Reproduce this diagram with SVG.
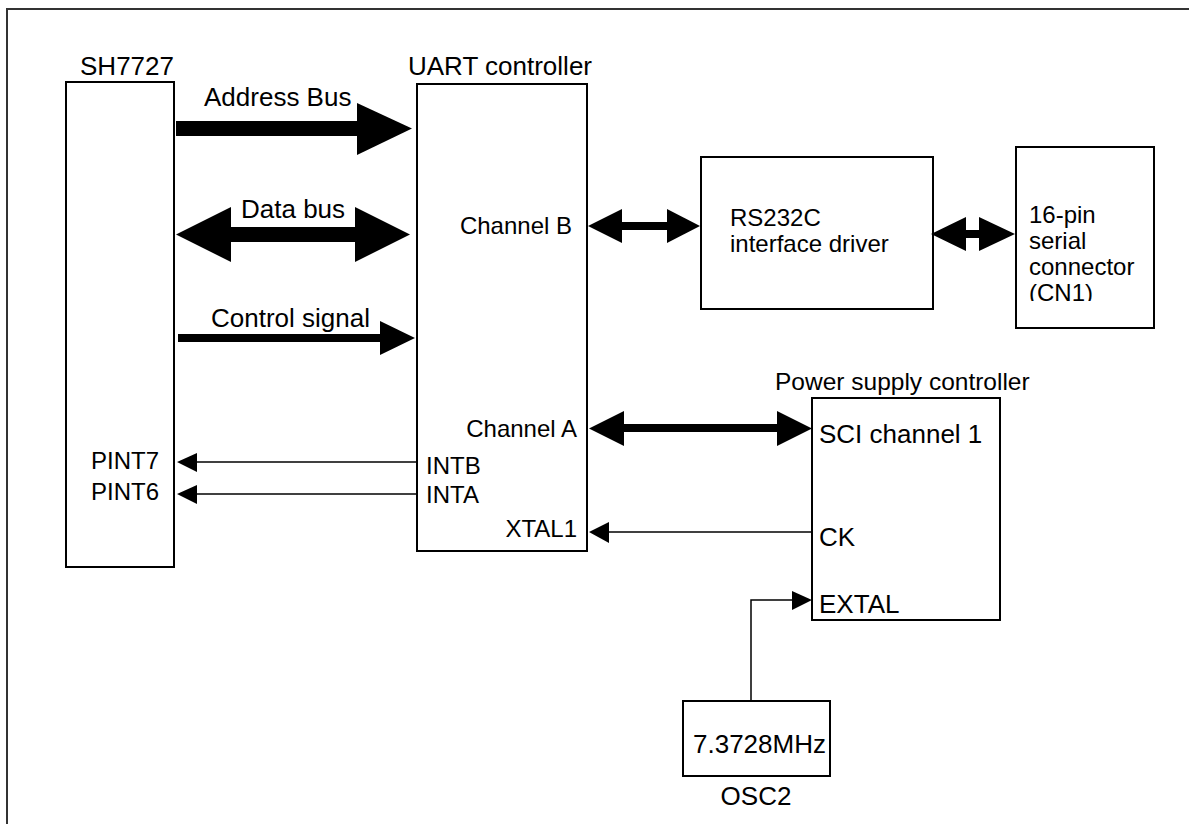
<svg xmlns="http://www.w3.org/2000/svg" width="1189" height="824" viewBox="0 0 1189 824">
<defs>
<style>
.box{fill:#fff;stroke:#000;stroke-width:2}
.frame{fill:none;stroke:#333;stroke-width:2}
.big{font-family:"Liberation Sans",Arial,sans-serif;font-size:26px;fill:#000}
.sm{font-family:"Liberation Sans",Arial,sans-serif;font-size:24px;fill:#000}
.thin{fill:none;stroke:#000;stroke-width:1.5}
.head{fill:#000;stroke:none}
</style>
<clipPath id="cnclip"><rect x="1017" y="148" width="136" height="153"/></clipPath>
</defs>
<rect class="frame" x="7" y="9" width="1200" height="830"/>

<g id="sh7727">
<rect class="box" x="66" y="82" width="108" height="485"/>
<text class="big" x="127" y="75" text-anchor="middle">SH7727</text>
<text class="sm" x="159" y="469" text-anchor="end">PINT7</text>
<text class="sm" x="159" y="500" text-anchor="end">PINT6</text>
</g>

<g id="uart">
<rect class="box" x="417" y="84" width="170" height="467"/>
<text class="big" x="408" y="75">UART controller</text>
<text class="sm" x="572" y="234" text-anchor="end">Channel B</text>
<text class="sm" x="577" y="437" text-anchor="end">Channel A</text>
<text class="sm" x="426" y="474">INTB</text>
<text class="sm" x="426" y="503">INTA</text>
<text class="sm" x="577" y="537" text-anchor="end">XTAL1</text>
</g>

<g id="rs232c">
<rect class="box" x="701" y="157" width="232" height="152"/>
<text class="sm" x="730" y="226">RS232C</text>
<text class="sm" x="730" y="252">interface driver</text>
</g>

<g id="cn1">
<rect class="box" x="1016" y="147" width="138" height="181"/>
<g clip-path="url(#cnclip)">
<text class="sm" x="1029" y="223">16-pin</text>
<text class="sm" x="1029" y="249">serial</text>
<text class="sm" x="1029" y="275">connector</text>
<text class="sm" x="1029" y="301">(CN1)</text>
</g>
</g>

<g id="psc">
<rect class="box" x="812" y="398" width="188" height="222"/>
<text class="big" x="775" y="390" style="font-size:24.5px">Power supply controller</text>
<text class="big" x="819" y="443">SCI channel 1</text>
<text class="big" x="819" y="546">CK</text>
<text class="big" x="819" y="613">EXTAL</text>
</g>

<g id="osc2">
<rect class="box" x="683" y="701" width="147" height="75"/>
<text class="big" x="693" y="753">7.3728MHz</text>
<text class="big" x="756" y="805" text-anchor="middle">OSC2</text>
</g>

<g id="connectors">
<!-- Address Bus -->
<rect class="head" x="176" y="121" width="182" height="15"/>
<polygon class="head" points="357,103 412,128.5 357,155"/>
<text class="big" x="204" y="106">Address Bus</text>
<!-- Data bus -->
<rect class="head" x="230" y="227" width="126" height="15"/>
<polygon class="head" points="231,207 176,234.5 231,262"/>
<polygon class="head" points="355,207 410,234.5 355,262"/>
<text class="big" x="241" y="218">Data bus</text>
<!-- Control signal -->
<rect class="head" x="178" y="334" width="203" height="8"/>
<polygon class="head" points="380,321 415,338 380,355"/>
<text class="big" x="211" y="327">Control signal</text>
<!-- Channel B <-> RS232C -->
<rect class="head" x="621" y="222" width="47" height="8"/>
<polygon class="head" points="622,209 588,226 622,243"/>
<polygon class="head" points="667,209 700,226 667,243"/>
<!-- RS232C <-> CN1 -->
<rect class="head" x="965" y="230" width="15" height="8"/>
<polygon class="head" points="966,217 931,234 966,251"/>
<polygon class="head" points="979,217 1015,234 979,251"/>
<!-- Channel A <-> SCI channel 1 -->
<rect class="head" x="623" y="424" width="155" height="8"/>
<polygon class="head" points="624,411 589,428.5 624,446"/>
<polygon class="head" points="777,411 812,428.5 777,446"/>
<!-- INTB -> PINT7 -->
<line class="thin" x1="418" y1="462" x2="196" y2="462"/>
<polygon class="head" points="197,453 177,462 197,472"/>
<!-- INTA -> PINT6 -->
<line class="thin" x1="418" y1="494" x2="196" y2="494"/>
<polygon class="head" points="197,485 177,494 197,504"/>
<!-- CK -> XTAL1 -->
<line class="thin" x1="812" y1="532" x2="608" y2="532"/>
<polygon class="head" points="609,522 589,532 609,543"/>
<!-- OSC2 -> EXTAL -->
<polyline class="thin" points="751,701 751,600 793,600"/>
<polygon class="head" points="792,591 812,600 792,610"/>
</g>
</svg>
